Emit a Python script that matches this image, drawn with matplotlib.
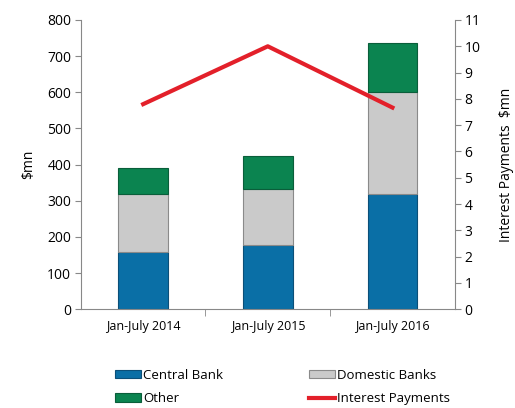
import numpy as np
import matplotlib.pyplot as plt

# values
periods = ['Jan-July 2014', 'Jan-July 2015', 'Jan-July 2016']
central_bank = [157, 177, 319]
domestic_banks = [162, 155, 282]
other = [71, 93, 135]
interest_payments = [7.8, 10.0, 7.67]

plt.rcParams['font.family'] = ['Open Sans', 'DejaVu Sans']

fig = plt.figure(figsize=(5.15, 4.08), dpi=100)
ax = fig.add_axes([0.157, 0.242, 0.726, 0.709])

x = np.arange(len(periods))
w = 0.4
edge = '#8a8a8a'
b1 = ax.bar(x, central_bank, w, color='#0a6fa6', edgecolor='#0b4f78', linewidth=0.8,
            label='Central Bank')
bottom2 = np.array(central_bank)
b2 = ax.bar(x, domestic_banks, w, bottom=bottom2, color='#cacaca', edgecolor=edge,
            linewidth=0.8, label='Domestic Banks')
bottom3 = bottom2 + np.array(domestic_banks)
b3 = ax.bar(x, other, w, bottom=bottom3, color='#0b8450', edgecolor='#0a5e3a',
            linewidth=0.8, label='Other')

ax.set_xlim(-0.5, 2.5)
ax.set_ylim(0, 800)
ax.set_yticks(np.arange(0, 801, 100))
ax.set_xticks(x)
ax.set_xticklabels(periods, fontsize=9)
ax.set_xticks([0.5, 1.5], minor=True)
ax.tick_params(axis='x', which='major', length=0, pad=8)
ax.tick_params(axis='x', which='minor', length=5, color='#888888')
ax.tick_params(axis='y', labelsize=10, length=4, color='#888888', pad=3)
ax.set_ylabel('$mn', fontsize=10, labelpad=8)
for s in ['left', 'bottom']:
    ax.spines[s].set_color('#888888')
ax.spines['top'].set_visible(False)
ax.spines['right'].set_visible(False)

ax2 = ax.twinx()
ln, = ax2.plot(x, interest_payments, color='#e3202a', linewidth=3,
               label='Interest Payments')
ax2.set_ylim(0, 11)
ax2.set_yticks(np.arange(0, 12, 1))
ax2.tick_params(axis='y', labelsize=10, length=4, color='#888888', pad=3)
ax2.set_ylabel('Interest Payments  $mn', fontsize=10, labelpad=13)
ax2.spines['right'].set_color('#888888')
ax2.spines['top'].set_visible(False)
ax2.spines['left'].set_visible(False)
ax2.spines['bottom'].set_visible(False)

handles = [b1, b3, b2, ln]
labels = ['Central Bank', 'Other', 'Domestic Banks', 'Interest Payments']
fig.legend(handles, labels, ncol=2, loc='lower left', bbox_to_anchor=(0.2, -0.022),
           frameon=False, fontsize=9.5, handlelength=2.0, handleheight=0.6,
           handletextpad=0.15, columnspacing=6.5, labelspacing=0.8)

fig.savefig('out.png', dpi=100)
